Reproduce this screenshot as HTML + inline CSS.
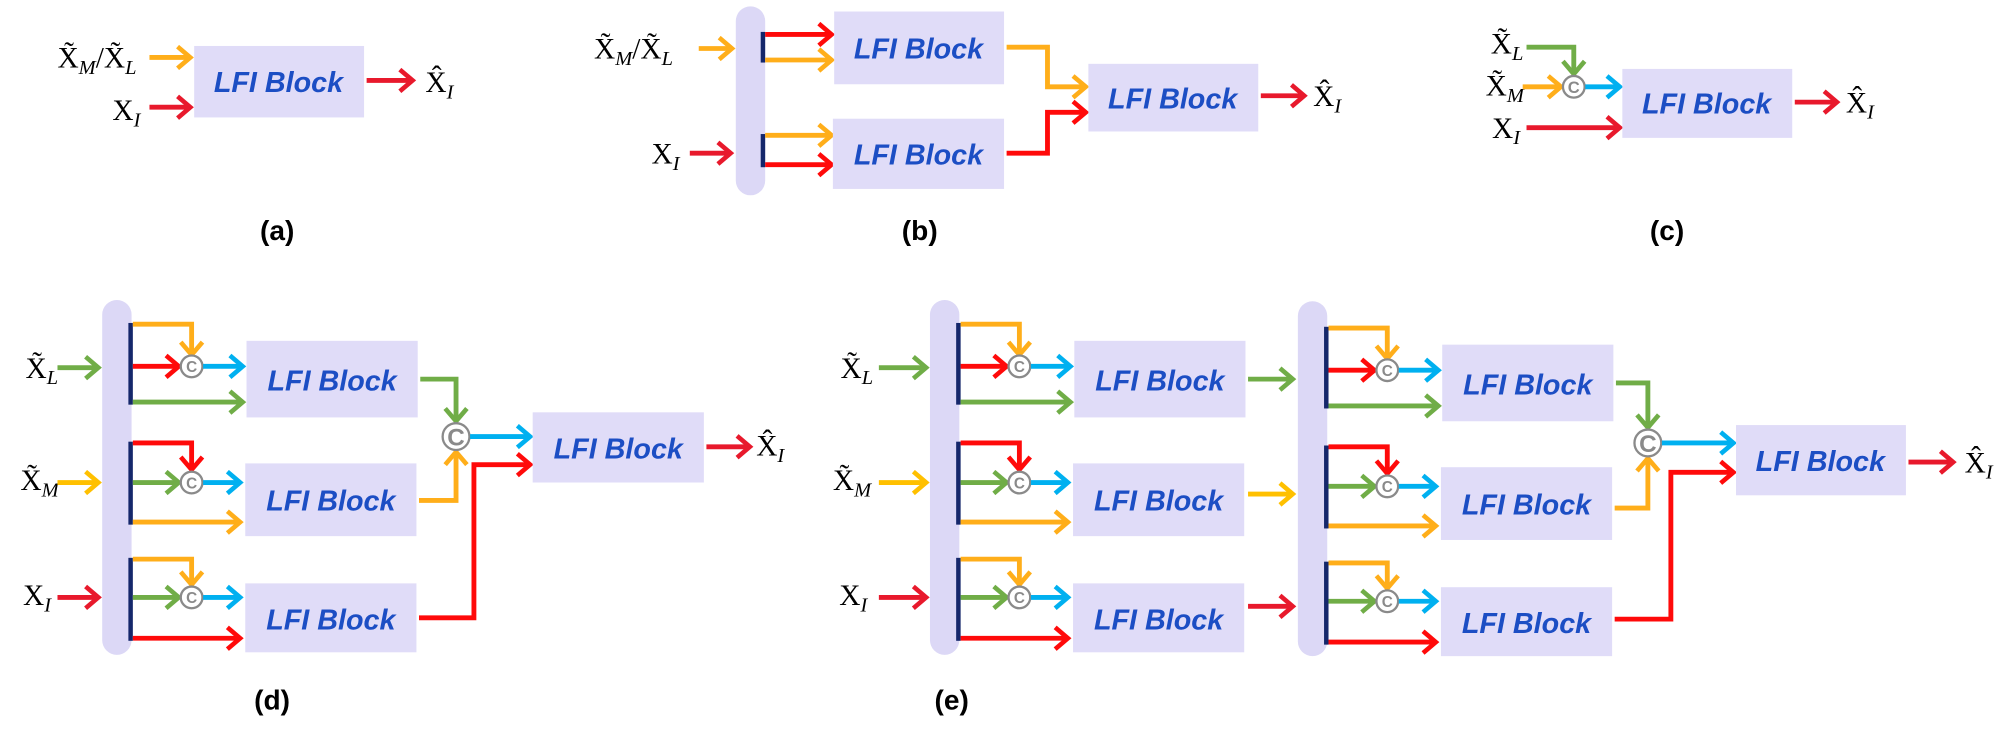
<!DOCTYPE html>
<html><head><meta charset="utf-8"><style>
html,body{margin:0;padding:0;background:#fff;}
svg{display:block;}
.lb{font-family:"Liberation Sans",sans-serif;font-weight:bold;font-style:italic;font-size:22.5px;fill:#1c4ec4;text-anchor:middle;}
.m{font-family:"Liberation Serif",serif;font-size:23px;fill:#000;}
.s{font-style:italic;font-size:16px;}
.cap{font-family:"Liberation Sans",sans-serif;font-weight:bold;font-size:22px;fill:#000;text-anchor:middle;}
.blk{fill:#e0dcf8;}
.pill{fill:#dcd8f6;}
.bar{fill:#15276b;}
path{fill:none;stroke-width:3.8;}
.o{stroke:#ffae1a;}.r{stroke:#ff0a0a;}.g{stroke:#70ad47;}.c{stroke:#00b0f0;}.rr{stroke:#e8192c;}.y{stroke:#ffc000;}
.cc{fill:#fff;stroke:#8a8a8a;stroke-width:1.8;}
.ct{font-family:"Liberation Sans",sans-serif;font-weight:bold;fill:#8a8a8a;text-anchor:middle;}
</style></head><body>
<svg width="2003" height="734" viewBox="0 0 1568 575" preserveAspectRatio="none" xmlns="http://www.w3.org/2000/svg">
<defs>
<marker id="ao" markerUnits="userSpaceOnUse" markerWidth="16" markerHeight="20" refX="12" refY="10" orient="auto"><path d="M2,1.5 L12,10 L2,18.5" style="stroke:#ffae1a;stroke-width:3.6"/></marker>
<marker id="ar" markerUnits="userSpaceOnUse" markerWidth="16" markerHeight="20" refX="12" refY="10" orient="auto"><path d="M2,1.5 L12,10 L2,18.5" style="stroke:#ff0a0a;stroke-width:3.6"/></marker>
<marker id="arr" markerUnits="userSpaceOnUse" markerWidth="16" markerHeight="20" refX="12" refY="10" orient="auto"><path d="M2,1.5 L12,10 L2,18.5" style="stroke:#e8192c;stroke-width:3.6"/></marker>
<marker id="ag" markerUnits="userSpaceOnUse" markerWidth="16" markerHeight="20" refX="12" refY="10" orient="auto"><path d="M2,1.5 L12,10 L2,18.5" style="stroke:#70ad47;stroke-width:3.6"/></marker>
<marker id="ac" markerUnits="userSpaceOnUse" markerWidth="16" markerHeight="20" refX="12" refY="10" orient="auto"><path d="M2,1.5 L12,10 L2,18.5" style="stroke:#00b0f0;stroke-width:3.6"/></marker>
<marker id="ay" markerUnits="userSpaceOnUse" markerWidth="16" markerHeight="20" refX="12" refY="10" orient="auto"><path d="M2,1.5 L12,10 L2,18.5" style="stroke:#ffc000;stroke-width:3.6"/></marker>
<g id="stage">
<rect class="bar" x="100.5" y="253" width="3.5" height="64"/>
<rect class="bar" x="100.5" y="346" width="3.5" height="65"/>
<rect class="bar" x="100.5" y="437" width="3.5" height="65"/>
<path class="o" d="M104,254 H150 V278" marker-end="url(#ao)"/>
<path class="r" d="M104,287 H140" marker-end="url(#ar)"/>
<circle class="cc" cx="150" cy="287" r="8.5"/>
<path class="c" d="M159,287 H190" marker-end="url(#ac)"/>
<path class="g" d="M104,315 H190" marker-end="url(#ag)"/>
<path class="r" d="M104,347 H150 V368" marker-end="url(#ar)"/>
<path class="g" d="M104,378 H140" marker-end="url(#ag)"/>
<circle class="cc" cx="150" cy="378" r="8.5"/>
<path class="c" d="M159,378 H188" marker-end="url(#ac)"/>
<path class="o" d="M104,409 H188" marker-end="url(#ao)"/>
<path class="o" d="M104,438 H150 V458" marker-end="url(#ao)"/>
<path class="g" d="M104,468 H140" marker-end="url(#ag)"/>
<circle class="cc" cx="150" cy="468" r="8.5"/>
<path class="c" d="M159,468 H188" marker-end="url(#ac)"/>
<path class="r" d="M104,500 H188" marker-end="url(#ar)"/>
<rect class="blk" x="193" y="267" width="134" height="60"/>
<rect class="blk" x="192" y="363" width="134" height="57"/>
<rect class="blk" x="192" y="457" width="134" height="54"/>
</g>
</defs>

<!-- (a) -->
<text class="m" x="45" y="53">X&#771;<tspan class="s" dy="5">M</tspan><tspan dy="-5">/X&#771;</tspan><tspan class="s" dy="5">L</tspan></text>
<path class="o" d="M117,45 H149" marker-end="url(#ao)"/>
<text class="m" x="88" y="94">X<tspan class="s" dy="5">I</tspan></text>
<path class="rr" d="M117,84 H149" marker-end="url(#arr)"/>
<rect class="blk" x="152" y="36" width="133" height="56"/>
<text class="lb" x="218" y="72">LFI Block</text>
<path class="rr" d="M287,63 H323" marker-end="url(#arr)"/>
<text class="m" x="333" y="72">X&#770;<tspan class="s" dy="5">I</tspan></text>
<text class="cap" x="217" y="188">(a)</text>

<!-- (b) -->
<rect class="pill" x="576" y="5" width="23" height="148" rx="11.5"/>
<rect class="bar" x="595.5" y="25" width="3.5" height="24"/>
<rect class="bar" x="595.5" y="105" width="3.5" height="26"/>
<text class="m" x="465" y="46">X&#771;<tspan class="s" dy="5">M</tspan><tspan dy="-5">/X&#771;</tspan><tspan class="s" dy="5">L</tspan></text>
<path class="o" d="M547,38 H573" marker-end="url(#ao)"/>
<text class="m" x="510" y="128">X<tspan class="s" dy="5">I</tspan></text>
<path class="rr" d="M540,120 H572" marker-end="url(#arr)"/>
<path class="r" d="M599,27 H651" marker-end="url(#ar)"/>
<path class="o" d="M599,47 H651" marker-end="url(#ao)"/>
<path class="o" d="M599,106 H651" marker-end="url(#ao)"/>
<path class="r" d="M599,129 H651" marker-end="url(#ar)"/>
<rect class="blk" x="653" y="9" width="133" height="57"/>
<text class="lb" x="719" y="46">LFI Block</text>
<rect class="blk" x="652" y="93" width="134" height="55"/>
<text class="lb" x="719" y="129">LFI Block</text>
<path class="o" d="M788,37 H820 V68 H850" marker-end="url(#ao)"/>
<path class="r" d="M788,120 H820 V88 H850" marker-end="url(#ar)"/>
<rect class="blk" x="852" y="50" width="133" height="53"/>
<text class="lb" x="918" y="85">LFI Block</text>
<path class="rr" d="M987,75 H1021" marker-end="url(#arr)"/>
<text class="m" x="1028" y="83">X&#770;<tspan class="s" dy="5">I</tspan></text>
<text class="cap" x="720" y="188">(b)</text>

<!-- (c) -->
<text class="m" x="1167" y="42">X&#771;<tspan class="s" dy="5">L</tspan></text>
<path class="g" d="M1195,37 H1232 V58" marker-end="url(#ag)"/>
<text class="m" x="1163" y="75">X&#771;<tspan class="s" dy="5">M</tspan></text>
<path class="o" d="M1192,68 H1222" marker-end="url(#ao)"/>
<circle class="cc" cx="1232" cy="68" r="8.5"/>
<text class="ct" x="1232" y="73" font-size="13">C</text>
<path class="c" d="M1241,68 H1268" marker-end="url(#ac)"/>
<text class="m" x="1168" y="108">X<tspan class="s" dy="5">I</tspan></text>
<path class="rr" d="M1195,100 H1268" marker-end="url(#arr)"/>
<rect class="blk" x="1270" y="54" width="133" height="54"/>
<text class="lb" x="1336" y="89">LFI Block</text>
<path class="rr" d="M1405,80 H1438" marker-end="url(#arr)"/>
<text class="m" x="1445" y="88">X&#770;<tspan class="s" dy="5">I</tspan></text>
<text class="cap" x="1305" y="188">(c)</text>

<!-- (d) -->
<rect class="pill" x="80" y="235" width="23" height="278" rx="11.5"/>
<use href="#stage"/>
<text class="m" x="20" y="296">X&#771;<tspan class="s" dy="5">L</tspan></text>
<path class="g" d="M45,288 H77" marker-end="url(#ag)"/>
<text class="m" x="16" y="384">X&#771;<tspan class="s" dy="5">M</tspan></text>
<path class="y" d="M45,378 H77" marker-end="url(#ay)"/>
<text class="m" x="18" y="474">X<tspan class="s" dy="5">I</tspan></text>
<path class="rr" d="M45,468 H77" marker-end="url(#arr)"/>
<g class="ct" font-size="12"><text x="150" y="291.5">C</text><text x="150" y="382.5">C</text><text x="150" y="472.5">C</text></g>
<g class="lb"><text x="260" y="306">LFI Block</text><text x="259" y="400">LFI Block</text><text x="259" y="493">LFI Block</text></g>
<path class="g" d="M329,297 H357 V330" marker-end="url(#ag)"/>
<path class="o" d="M328,392 H357 V354" marker-end="url(#ao)"/>
<circle class="cc" cx="357" cy="342" r="10.5"/>
<text class="ct" x="357" y="349" font-size="19">C</text>
<path class="c" d="M368,342 H415" marker-end="url(#ac)"/>
<path class="r" d="M328,484 H371 V364 H415" marker-end="url(#ar)"/>
<rect class="blk" x="417" y="323" width="134" height="55"/>
<text class="lb" x="484" y="359">LFI Block</text>
<path class="rr" d="M553,350 H587" marker-end="url(#arr)"/>
<text class="m" x="592" y="357">X&#770;<tspan class="s" dy="5">I</tspan></text>
<text class="cap" x="213" y="556">(d)</text>

<!-- (e) -->
<rect class="pill" x="728" y="235" width="23" height="278" rx="11.5"/>
<use href="#stage" transform="translate(648,0)"/>
<text class="m" x="658" y="296">X&#771;<tspan class="s" dy="5">L</tspan></text>
<path class="g" d="M688,288 H725" marker-end="url(#ag)"/>
<text class="m" x="652" y="384">X&#771;<tspan class="s" dy="5">M</tspan></text>
<path class="y" d="M688,378 H725" marker-end="url(#ay)"/>
<text class="m" x="657" y="474">X<tspan class="s" dy="5">I</tspan></text>
<path class="rr" d="M688,468 H725" marker-end="url(#arr)"/>
<g class="ct" font-size="12"><text x="798" y="291.5">C</text><text x="798" y="382.5">C</text><text x="798" y="472.5">C</text></g>
<g class="lb"><text x="908" y="306">LFI Block</text><text x="907" y="400">LFI Block</text><text x="907" y="493">LFI Block</text></g>
<path class="g" d="M977,297 H1012" marker-end="url(#ag)"/>
<path class="y" d="M977,387 H1012" marker-end="url(#ay)"/>
<path class="rr" d="M977,475 H1012" marker-end="url(#arr)"/>
<rect class="pill" x="1016" y="236" width="23" height="278" rx="11.5"/>
<use href="#stage" transform="translate(936,3)"/>
<g class="ct" font-size="12"><text x="1086" y="294.5">C</text><text x="1086" y="385.5">C</text><text x="1086" y="475.5">C</text></g>
<g class="lb"><text x="1196" y="309">LFI Block</text><text x="1195" y="403">LFI Block</text><text x="1195" y="496">LFI Block</text></g>
<path class="g" d="M1265,300 H1290 V335" marker-end="url(#ag)"/>
<path class="o" d="M1264,398 H1290 V359" marker-end="url(#ao)"/>
<circle class="cc" cx="1290" cy="347" r="10.5"/>
<text class="ct" x="1290" y="354" font-size="19">C</text>
<path class="c" d="M1301,347 H1357" marker-end="url(#ac)"/>
<path class="r" d="M1264,485 H1308 V370 H1357" marker-end="url(#ar)"/>
<rect class="blk" x="1359" y="333" width="133" height="55"/>
<text class="lb" x="1425" y="369">LFI Block</text>
<path class="rr" d="M1494,362 H1529" marker-end="url(#arr)"/>
<text class="m" x="1538" y="370">X&#770;<tspan class="s" dy="5">I</tspan></text>
<text class="cap" x="745" y="556">(e)</text>
</svg>
</body></html>
